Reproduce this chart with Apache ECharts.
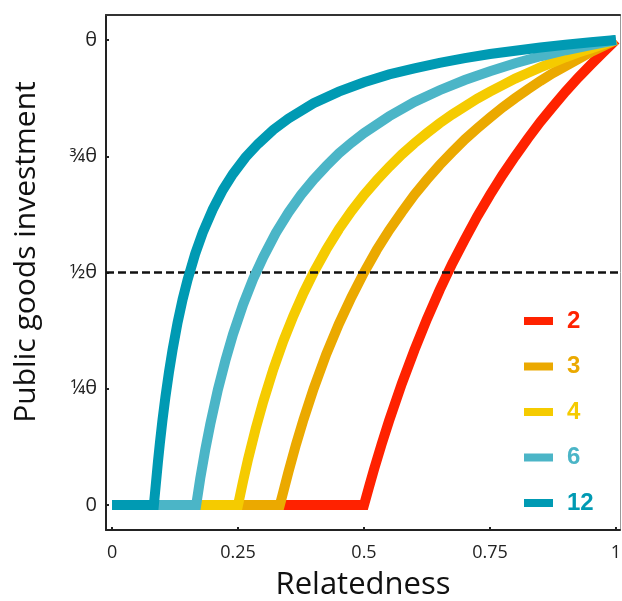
<!DOCTYPE html>
<html><head><meta charset="utf-8">
<script src="https://cdn.jsdelivr.net/npm/echarts@6/dist/echarts.min.js"></script>
<style>html,body{margin:0;padding:0;background:#fff}#c{width:622px;height:601px}</style>
</head><body><div id="c"></div>
<script>
// Group sizes (legend) and colours
const groupSizes = ['2', '3', '4', '6', '12'];
const colors = ['#FF2200', '#EBA900', '#F5CB00', '#4BB5C7', '#009AB3'];

// Relatedness (x) and public goods investment in units of θ (y)
const rel_n2  = [0, 0.5, 0.51, 0.52, 0.535, 0.55, 0.575, 0.6, 0.625, 0.65, 0.675, 0.7, 0.725, 0.75, 0.775, 0.8, 0.825, 0.85, 0.875, 0.9, 0.925, 0.95, 0.975, 1];
const inv_n2  = [0, 0, 0.039, 0.077, 0.131, 0.182, 0.261, 0.333, 0.4, 0.462, 0.519, 0.571, 0.621, 0.667, 0.71, 0.75, 0.788, 0.824, 0.857, 0.889, 0.919, 0.947, 0.974, 1];

const rel_n3  = [0, 0.333, 0.34, 0.35, 0.365, 0.38, 0.4, 0.425, 0.45, 0.475, 0.5, 0.525, 0.55, 0.575, 0.6, 0.625, 0.65, 0.675, 0.7, 0.725, 0.75, 0.775, 0.8, 0.825, 0.85, 0.875, 0.9, 0.925, 0.95, 0.975, 1];
const inv_n3  = [0, 0, 0.029, 0.071, 0.13, 0.184, 0.25, 0.324, 0.389, 0.447, 0.5, 0.548, 0.591, 0.63, 0.667, 0.7, 0.731, 0.759, 0.786, 0.81, 0.833, 0.855, 0.875, 0.894, 0.912, 0.929, 0.944, 0.959, 0.974, 0.987, 1];

const rel_n4  = [0, 0.25, 0.26, 0.27, 0.285, 0.3, 0.32, 0.34, 0.36, 0.38, 0.4, 0.425, 0.45, 0.475, 0.5, 0.525, 0.55, 0.575, 0.6, 0.625, 0.65, 0.675, 0.7, 0.725, 0.75, 0.775, 0.8, 0.825, 0.85, 0.875, 0.9, 0.925, 0.95, 0.975, 1];
const inv_n4  = [0, 0, 0.051, 0.099, 0.164, 0.222, 0.292, 0.353, 0.407, 0.456, 0.5, 0.549, 0.593, 0.632, 0.667, 0.698, 0.727, 0.754, 0.778, 0.8, 0.821, 0.84, 0.857, 0.874, 0.889, 0.903, 0.917, 0.929, 0.941, 0.952, 0.963, 0.973, 0.982, 0.991, 1];

const rel_n6  = [0, 0.167, 0.175, 0.185, 0.195, 0.21, 0.225, 0.24, 0.26, 0.28, 0.3, 0.325, 0.35, 0.375, 0.4, 0.425, 0.45, 0.475, 0.5, 0.55, 0.6, 0.65, 0.7, 0.75, 0.8, 0.85, 0.9, 0.95, 1];
const inv_n6  = [0, 0, 0.057, 0.119, 0.174, 0.248, 0.311, 0.367, 0.431, 0.486, 0.533, 0.585, 0.629, 0.667, 0.7, 0.729, 0.756, 0.779, 0.8, 0.836, 0.867, 0.892, 0.914, 0.933, 0.95, 0.965, 0.978, 0.989, 1];

const rel_n12 = [0, 0.083, 0.087, 0.091, 0.095, 0.1, 0.106, 0.113, 0.12, 0.13, 0.14, 0.15, 0.165, 0.18, 0.2, 0.22, 0.24, 0.265, 0.29, 0.32, 0.35, 0.4, 0.45, 0.5, 0.55, 0.6, 0.65, 0.7, 0.75, 0.8, 0.85, 0.9, 0.95, 1];
const inv_n12 = [0, 0, 0.046, 0.092, 0.134, 0.182, 0.233, 0.286, 0.333, 0.392, 0.442, 0.485, 0.54, 0.586, 0.636, 0.678, 0.712, 0.748, 0.777, 0.807, 0.831, 0.864, 0.889, 0.909, 0.926, 0.939, 0.951, 0.961, 0.97, 0.977, 0.984, 0.99, 0.995, 1];

const threshold = [0.5]; // dashed reference at ½θ

// Tick values and labels
const xTickValues = [0, 0.25, 0.5, 0.75, 1];
const xTickLabels = ['0', '0.25', '0.5', '0.75', '1'];
const yTickValues = [0, 0.25, 0.5, 0.75, 1];
const yTickLabels = ['0', '¼θ', '½θ', '¾θ', 'θ'];

const rels = [rel_n2, rel_n3, rel_n4, rel_n6, rel_n12];
const invs = [inv_n2, inv_n3, inv_n4, inv_n6, inv_n12];

const FONT = 'Open Sans';
const chart = echarts.init(document.getElementById('c'), null, {renderer: 'canvas'});

const series = groupSizes.map((g, i) => ({
  name: g,
  type: 'line',
  data: rels[i].map((x, j) => [x, invs[i][j]]),
  showSymbol: false,
  symbol: 'none',
  smooth: false,
  color: colors[i],
  lineStyle: {width: 10, color: colors[i], cap: 'butt', join: 'miter'},
  z: 2 + i,
  silent: true
}));
series.push({
  type: 'line',
  data: [],
  z: 20,
  silent: true,
  markLine: {
    silent: true,
    symbol: 'none',
    label: {show: false},
    lineStyle: {type: [8, 4], width: 2.5, color: '#111'},
    data: threshold.map(v => ({yAxis: v}))
  }
});

chart.setOption({
  animation: false,
  backgroundColor: '#fff',
  grid: {left: 106, right: 2, top: 15, bottom: 71, containLabel: false, outerBoundsMode: 'none'},
  legend: {
    orient: 'vertical',
    left: 524,
    top: 309,
    padding: 0,
    icon: 'rect',
    itemWidth: 29,
    itemHeight: 8,
    itemGap: 21.5,
    selectedMode: false,
    textStyle: {fontSize: 24, fontWeight: 'bold', fontFamily: 'Liberation Sans', lineHeight: 24, padding: [0, 0, 0, 9]},
    data: groupSizes.map((g, i) => ({name: g, textStyle: {color: colors[i]}}))
  },
  xAxis: [{
    type: 'value',
    min: -0.012,
    max: 1.008,
    name: 'Relatedness',
    nameLocation: 'middle',
    nameGap: 40,
    nameTextStyle: {fontSize: 31, fontFamily: FONT, color: '#111'},
    axisLine: {show: true, onZero: false, lineStyle: {color: '#222', width: 2}},
    axisTick: {show: true, inside: true, length: 3, customValues: xTickValues, lineStyle: {color: '#222', width: 2}},
    axisLabel: {customValues: xTickValues, margin: 14, fontSize: 18, fontFamily: FONT, color: '#222',
      formatter: v => { const k = xTickValues.indexOf(v); return k >= 0 ? xTickLabels[k] : ''; }},
    splitLine: {show: false}
  }, {
    type: 'value',
    position: 'top',
    min: -0.012,
    max: 1.008,
    axisLine: {show: true, onZero: false, lineStyle: {color: '#333', width: 2}},
    axisTick: {show: false},
    axisLabel: {show: false},
    splitLine: {show: false}
  }],
  yAxis: [{
    type: 'value',
    min: -0.0538,
    max: 1.0538,
    axisLine: {show: true, onZero: false, lineStyle: {color: '#222', width: 2}},
    axisTick: {show: true, inside: true, length: 3, customValues: yTickValues, lineStyle: {color: '#222', width: 2}},
    axisLabel: {customValues: yTickValues, margin: 9, fontSize: 20, fontFamily: FONT, color: '#222',
      formatter: v => { const k = yTickValues.indexOf(v); return k >= 0 ? yTickLabels[k] : ''; }},
    splitLine: {show: false}
  }, {
    type: 'value',
    position: 'right',
    min: -0.0538,
    max: 1.0538,
    axisLine: {show: true, onZero: false, lineStyle: {color: '#999', width: 1}},
    axisTick: {show: false},
    axisLabel: {show: false},
    splitLine: {show: false}
  }],
  graphic: [{
    type: 'text',
    x: 26,
    y: 252,
    rotation: Math.PI / 2,
    style: {text: 'Public goods investment', fontSize: 30, fontFamily: FONT, fill: '#111', align: 'center', verticalAlign: 'middle'}
  }],
  series: series
});
</script>
</body></html>
